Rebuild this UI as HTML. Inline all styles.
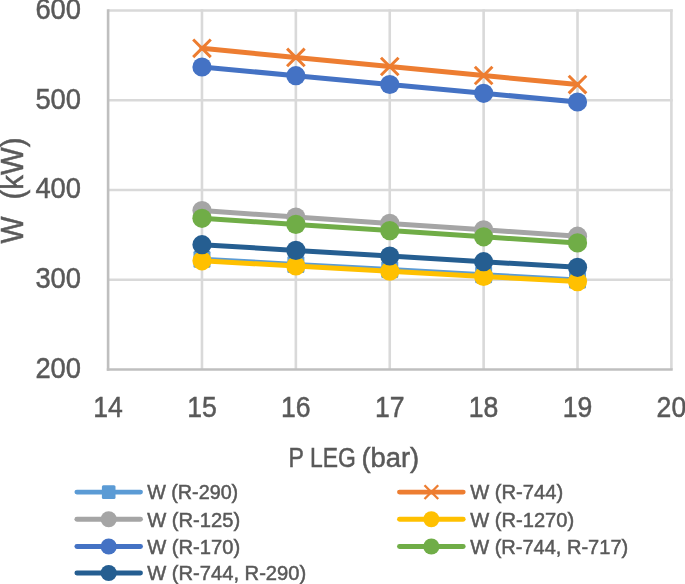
<!DOCTYPE html>
<html><head><meta charset="utf-8"><style>
html,body{margin:0;padding:0;background:#fff;}
body{width:685px;height:584px;overflow:hidden;}
svg{display:block;filter:blur(0.5px);}
text{font-family:"Liberation Sans",sans-serif;fill:#595959;stroke:#595959;stroke-width:0.5px;}
.tk{font-size:29px;}
.ti{font-size:27px;}
.ty{font-size:30.5px;}
.lg{font-size:20.5px;}
</style></head><body>
<svg width="685" height="584" viewBox="0 0 685 584">
<rect width="685" height="584" fill="#fff"/>
<line x1="108.10" y1="10.50" x2="672.70" y2="10.50" stroke="#D9D9D9" stroke-width="2.6"/>
<line x1="108.10" y1="100.25" x2="672.70" y2="100.25" stroke="#D9D9D9" stroke-width="2.6"/>
<line x1="108.10" y1="190.00" x2="672.70" y2="190.00" stroke="#D9D9D9" stroke-width="2.6"/>
<line x1="108.10" y1="279.75" x2="672.70" y2="279.75" stroke="#D9D9D9" stroke-width="2.6"/>
<line x1="201.98" y1="9.20" x2="201.98" y2="369.50" stroke="#D9D9D9" stroke-width="2.6"/>
<line x1="295.87" y1="9.20" x2="295.87" y2="369.50" stroke="#D9D9D9" stroke-width="2.6"/>
<line x1="389.75" y1="9.20" x2="389.75" y2="369.50" stroke="#D9D9D9" stroke-width="2.6"/>
<line x1="483.63" y1="9.20" x2="483.63" y2="369.50" stroke="#D9D9D9" stroke-width="2.6"/>
<line x1="577.52" y1="9.20" x2="577.52" y2="369.50" stroke="#D9D9D9" stroke-width="2.6"/>
<line x1="671.40" y1="9.20" x2="671.40" y2="369.50" stroke="#D9D9D9" stroke-width="2.6"/>
<line x1="108.10" y1="9.20" x2="108.10" y2="370.80" stroke="#BFBFBF" stroke-width="2.6"/>
<line x1="106.80" y1="369.50" x2="672.70" y2="369.50" stroke="#BFBFBF" stroke-width="2.6"/>
<polyline points="201.98,259.20 295.87,264.40 389.75,269.60 483.63,274.80 577.52,280.00" fill="none" stroke="#5B9BD5" stroke-width="5.0" stroke-linejoin="round" stroke-linecap="round"/>
<rect x="193.48" y="250.70" width="17.00" height="17.00" rx="1.5" fill="#5B9BD5"/>
<rect x="287.37" y="255.90" width="17.00" height="17.00" rx="1.5" fill="#5B9BD5"/>
<rect x="381.25" y="261.10" width="17.00" height="17.00" rx="1.5" fill="#5B9BD5"/>
<rect x="475.13" y="266.30" width="17.00" height="17.00" rx="1.5" fill="#5B9BD5"/>
<rect x="569.02" y="271.50" width="17.00" height="17.00" rx="1.5" fill="#5B9BD5"/>
<polyline points="201.98,48.30 295.87,57.40 389.75,66.50 483.63,75.50 577.52,84.60" fill="none" stroke="#ED7D31" stroke-width="5.0" stroke-linejoin="round" stroke-linecap="round"/>
<path d="M193.18 39.50L210.78 57.10M193.18 57.10L210.78 39.50" stroke="#ED7D31" stroke-width="3.00" fill="none"/>
<path d="M287.07 48.60L304.67 66.20M287.07 66.20L304.67 48.60" stroke="#ED7D31" stroke-width="3.00" fill="none"/>
<path d="M380.95 57.70L398.55 75.30M380.95 75.30L398.55 57.70" stroke="#ED7D31" stroke-width="3.00" fill="none"/>
<path d="M474.83 66.70L492.43 84.30M474.83 84.30L492.43 66.70" stroke="#ED7D31" stroke-width="3.00" fill="none"/>
<path d="M568.72 75.80L586.32 93.40M568.72 93.40L586.32 75.80" stroke="#ED7D31" stroke-width="3.00" fill="none"/>
<polyline points="201.98,210.60 295.87,217.00 389.75,223.40 483.63,229.80 577.52,236.20" fill="none" stroke="#A5A5A5" stroke-width="5.0" stroke-linejoin="round" stroke-linecap="round"/>
<circle cx="201.98" cy="210.60" r="9.60" fill="#A5A5A5"/>
<circle cx="295.87" cy="217.00" r="9.60" fill="#A5A5A5"/>
<circle cx="389.75" cy="223.40" r="9.60" fill="#A5A5A5"/>
<circle cx="483.63" cy="229.80" r="9.60" fill="#A5A5A5"/>
<circle cx="577.52" cy="236.20" r="9.60" fill="#A5A5A5"/>
<polyline points="201.98,260.80 295.87,266.00 389.75,271.20 483.63,276.40 577.52,281.60" fill="none" stroke="#FFC000" stroke-width="5.0" stroke-linejoin="round" stroke-linecap="round"/>
<circle cx="201.98" cy="260.80" r="9.60" fill="#FFC000"/>
<circle cx="295.87" cy="266.00" r="9.60" fill="#FFC000"/>
<circle cx="389.75" cy="271.20" r="9.60" fill="#FFC000"/>
<circle cx="483.63" cy="276.40" r="9.60" fill="#FFC000"/>
<circle cx="577.52" cy="281.60" r="9.60" fill="#FFC000"/>
<polyline points="201.98,67.00 295.87,75.70 389.75,84.50 483.63,93.30 577.52,102.00" fill="none" stroke="#4472C4" stroke-width="5.0" stroke-linejoin="round" stroke-linecap="round"/>
<circle cx="201.98" cy="67.00" r="9.60" fill="#4472C4"/>
<circle cx="295.87" cy="75.70" r="9.60" fill="#4472C4"/>
<circle cx="389.75" cy="84.50" r="9.60" fill="#4472C4"/>
<circle cx="483.63" cy="93.30" r="9.60" fill="#4472C4"/>
<circle cx="577.52" cy="102.00" r="9.60" fill="#4472C4"/>
<polyline points="201.98,218.30 295.87,224.40 389.75,230.60 483.63,236.80 577.52,242.90" fill="none" stroke="#70AD47" stroke-width="5.0" stroke-linejoin="round" stroke-linecap="round"/>
<circle cx="201.98" cy="218.30" r="9.60" fill="#70AD47"/>
<circle cx="295.87" cy="224.40" r="9.60" fill="#70AD47"/>
<circle cx="389.75" cy="230.60" r="9.60" fill="#70AD47"/>
<circle cx="483.63" cy="236.80" r="9.60" fill="#70AD47"/>
<circle cx="577.52" cy="242.90" r="9.60" fill="#70AD47"/>
<polyline points="201.98,244.70 295.87,250.40 389.75,256.00 483.63,261.70 577.52,267.30" fill="none" stroke="#255E91" stroke-width="5.0" stroke-linejoin="round" stroke-linecap="round"/>
<circle cx="201.98" cy="244.70" r="9.60" fill="#255E91"/>
<circle cx="295.87" cy="250.40" r="9.60" fill="#255E91"/>
<circle cx="389.75" cy="256.00" r="9.60" fill="#255E91"/>
<circle cx="483.63" cy="261.70" r="9.60" fill="#255E91"/>
<circle cx="577.52" cy="267.30" r="9.60" fill="#255E91"/>
<text x="81.0" y="18.80" text-anchor="end" class="tk" textLength="45.60" lengthAdjust="spacingAndGlyphs">600</text>
<text x="81.0" y="108.55" text-anchor="end" class="tk" textLength="45.60" lengthAdjust="spacingAndGlyphs">500</text>
<text x="81.0" y="198.30" text-anchor="end" class="tk" textLength="45.60" lengthAdjust="spacingAndGlyphs">400</text>
<text x="81.0" y="288.05" text-anchor="end" class="tk" textLength="45.60" lengthAdjust="spacingAndGlyphs">300</text>
<text x="81.0" y="377.80" text-anchor="end" class="tk" textLength="45.60" lengthAdjust="spacingAndGlyphs">200</text>
<text x="108.10" y="416.5" text-anchor="middle" class="tk" textLength="29.60" lengthAdjust="spacingAndGlyphs">14</text>
<text x="201.98" y="416.5" text-anchor="middle" class="tk" textLength="29.60" lengthAdjust="spacingAndGlyphs">15</text>
<text x="295.87" y="416.5" text-anchor="middle" class="tk" textLength="29.60" lengthAdjust="spacingAndGlyphs">16</text>
<text x="389.75" y="416.5" text-anchor="middle" class="tk" textLength="29.60" lengthAdjust="spacingAndGlyphs">17</text>
<text x="483.63" y="416.5" text-anchor="middle" class="tk" textLength="29.60" lengthAdjust="spacingAndGlyphs">18</text>
<text x="577.52" y="416.5" text-anchor="middle" class="tk" textLength="29.60" lengthAdjust="spacingAndGlyphs">19</text>
<text x="671.40" y="416.5" text-anchor="middle" class="tk" textLength="29.60" lengthAdjust="spacingAndGlyphs">20</text>
<text x="288.5" y="467.0" class="ti" textLength="15.40" lengthAdjust="spacingAndGlyphs">P</text>
<text x="310.0" y="467.0" class="ti" textLength="45.80" lengthAdjust="spacingAndGlyphs">LEG</text>
<text x="361.4" y="467.0" class="ti" textLength="57.80" lengthAdjust="spacingAndGlyphs">(bar)</text>
<text transform="translate(22.7,243.5) rotate(-90)" x="0" y="0" class="ty" textLength="27.00" lengthAdjust="spacingAndGlyphs">W</text>
<text transform="translate(22.7,199.5) rotate(-90)" x="0" y="0" class="ty" textLength="62.00" lengthAdjust="spacingAndGlyphs">(kW)</text>
<line x1="76.9" y1="492.1" x2="140.5" y2="492.1" stroke="#5B9BD5" stroke-width="4.9" stroke-linecap="round"/><rect x="101.90" y="485.30" width="13.60" height="13.60" rx="1.5" fill="#5B9BD5"/><text x="147.2" y="499.30" class="lg" textLength="91.00" lengthAdjust="spacingAndGlyphs">W (R-290)</text>
<line x1="76.9" y1="519.3" x2="140.5" y2="519.3" stroke="#A5A5A5" stroke-width="4.9" stroke-linecap="round"/><circle cx="108.70" cy="519.30" r="8.06" fill="#A5A5A5"/><text x="147.2" y="526.50" class="lg" textLength="93.00" lengthAdjust="spacingAndGlyphs">W (R-125)</text>
<line x1="76.9" y1="546.5" x2="140.5" y2="546.5" stroke="#4472C4" stroke-width="4.9" stroke-linecap="round"/><circle cx="108.70" cy="546.50" r="8.06" fill="#4472C4"/><text x="147.2" y="553.70" class="lg" textLength="93.00" lengthAdjust="spacingAndGlyphs">W (R-170)</text>
<line x1="76.9" y1="573.0" x2="140.5" y2="573.0" stroke="#255E91" stroke-width="4.9" stroke-linecap="round"/><circle cx="108.70" cy="573.00" r="8.06" fill="#255E91"/><text x="147.2" y="580.20" class="lg" textLength="159.00" lengthAdjust="spacingAndGlyphs">W (R-744, R-290)</text>
<line x1="399.5" y1="492.1" x2="463.2" y2="492.1" stroke="#ED7D31" stroke-width="4.9" stroke-linecap="round"/><path d="M424.49 485.24L438.21 498.96M424.49 498.96L438.21 485.24" stroke="#ED7D31" stroke-width="2.34" fill="none"/><text x="470.2" y="499.30" class="lg" textLength="93.00" lengthAdjust="spacingAndGlyphs">W (R-744)</text>
<line x1="399.5" y1="519.3" x2="463.2" y2="519.3" stroke="#FFC000" stroke-width="4.9" stroke-linecap="round"/><circle cx="431.35" cy="519.30" r="8.06" fill="#FFC000"/><text x="470.2" y="526.50" class="lg" textLength="104.00" lengthAdjust="spacingAndGlyphs">W (R-1270)</text>
<line x1="399.5" y1="546.5" x2="463.2" y2="546.5" stroke="#70AD47" stroke-width="4.9" stroke-linecap="round"/><circle cx="431.35" cy="546.50" r="8.06" fill="#70AD47"/><text x="470.2" y="553.70" class="lg" textLength="158.00" lengthAdjust="spacingAndGlyphs">W (R-744, R-717)</text>
</svg>
</body></html>
